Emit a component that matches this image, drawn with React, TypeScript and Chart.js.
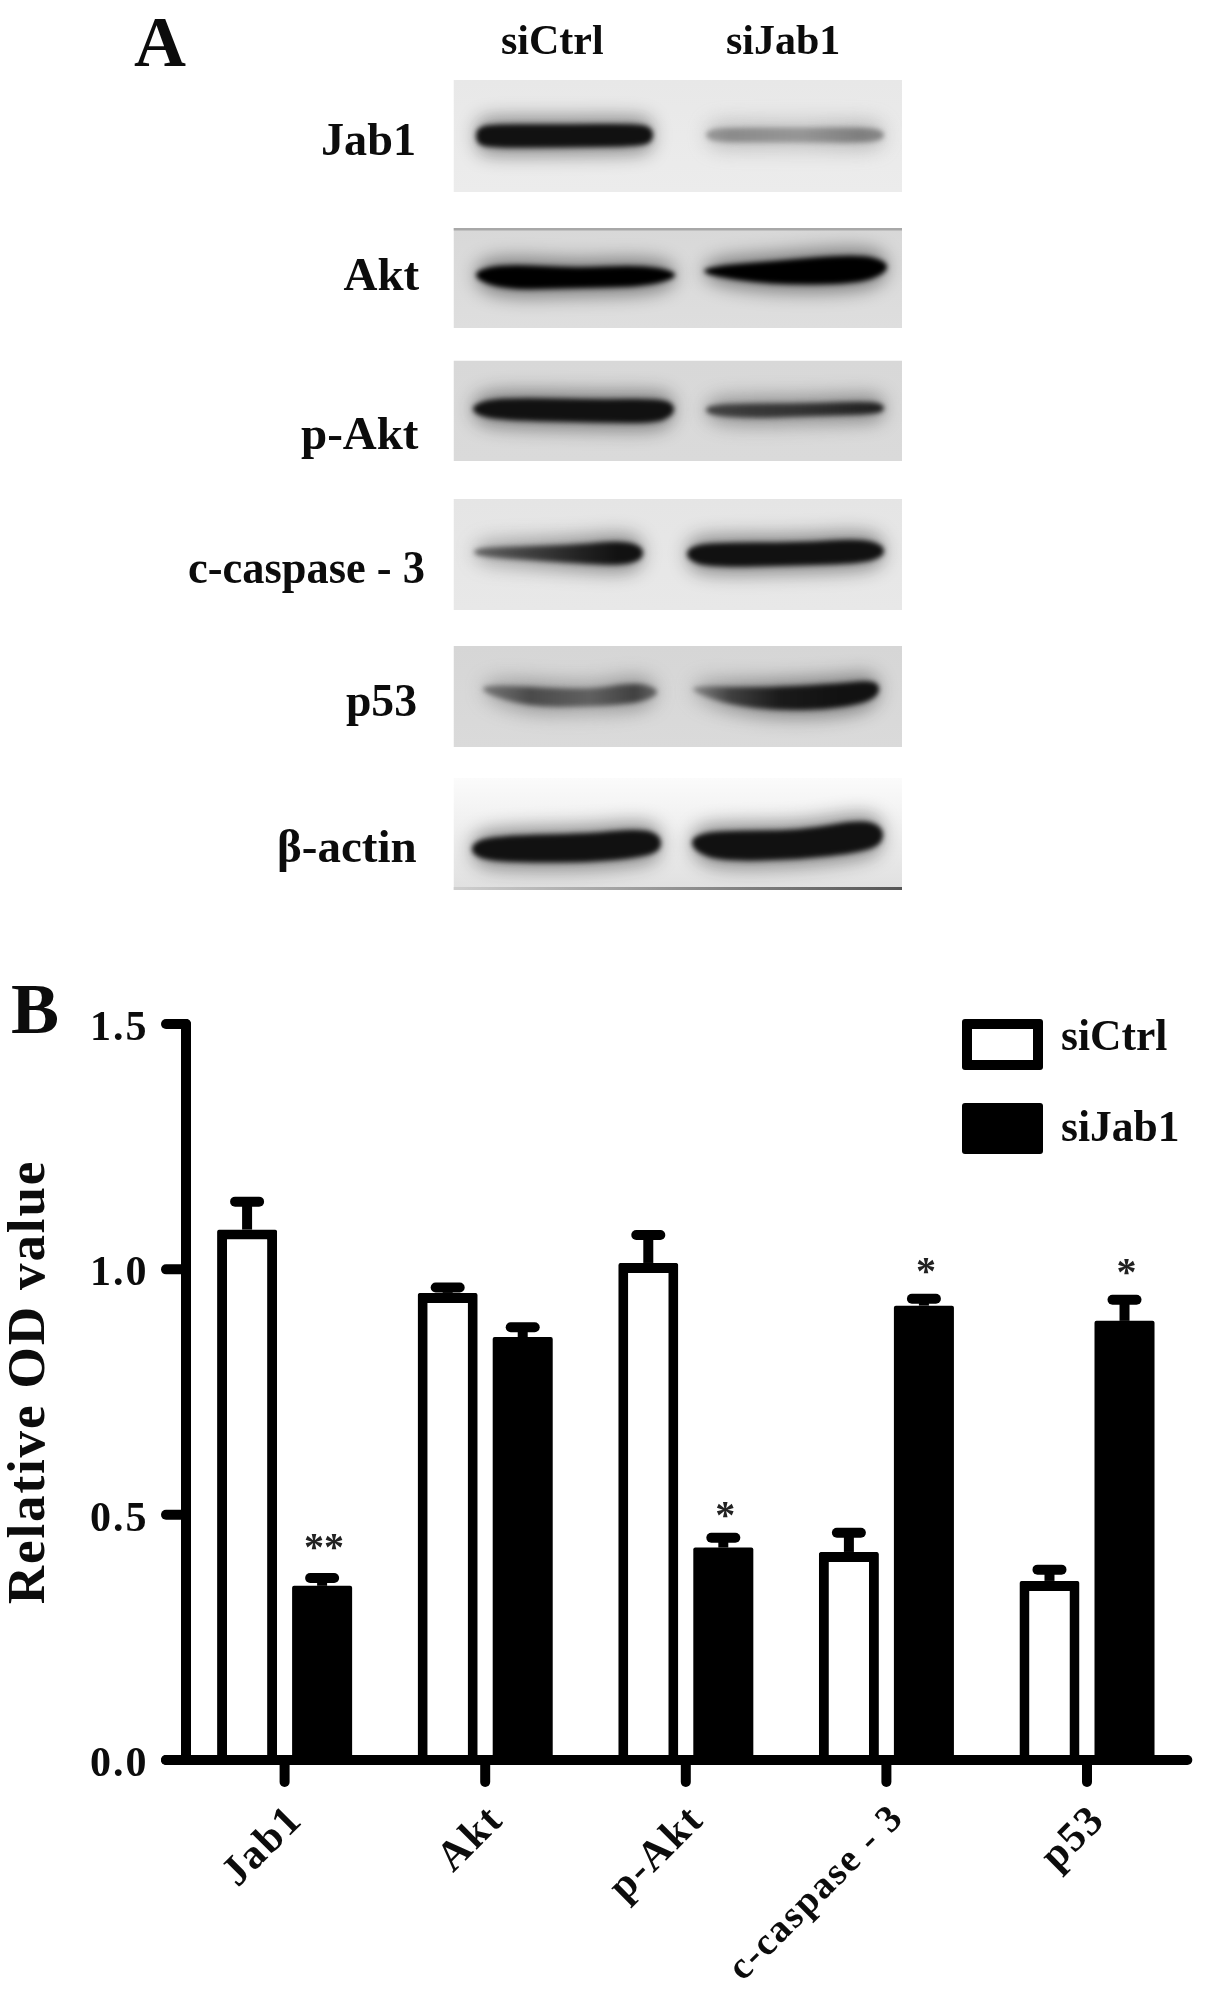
import { useEffect, useRef } from 'react';
import { Chart, registerables } from 'chart.js';

Chart.register(...registerables);

// ---- Panel B data ----
const categories = ['Jab1', 'Akt', 'p-Akt', 'c-caspase - 3', 'p53'];
const siCtrlValues = [1.081, 0.952, 1.013, 0.424, 0.365];
const siJab1Values = [0.355, 0.862, 0.433, 0.926, 0.895];
const siCtrlErrorTops = [1.138, 0.963, 1.07, 0.463, 0.388];
const siJab1ErrorTops = [0.371, 0.882, 0.453, 0.94, 0.938];
const siJab1Stars = ['**', '', '*', '*', '*'];
const siJab1StarLevels = [0.446, 0, 0.512, 1.008, 1.006];
const yTickValues = [0, 0.5, 1, 1.5];

// ---- Panel A text ----
const laneLabels = ['siCtrl', 'siJab1'];
const blotLabels = ['Jab1', 'Akt', 'p-Akt', 'c-caspase - 3', 'p53', 'β-actin'];

const SERIF = '"Liberation Serif", serif';
const INK = '#0c0c0c';

// ---- Panel A layout (decoration of the figure, not chart values) ----
type Pt = [number, number, number, string];
const PANEL_X = [453.5, 902];
const LANE_LABEL_POS: [number, number, number][] = [
  [501, 54, 106],
  [726, 54, 116],
];
const BLOT_LABEL_POS: [number, number, number][] = [
  [321, 155, 95],
  [343.5, 290, 76],
  [301, 449, 118],
  [188, 583, 237],
  [346, 716, 71],
  [277, 862, 140],
];
const PANELS: { y0: number; y1: number; top: string; bottom: string; bands: Pt[][] }[] = [
  {
    y0: 80, y1: 192, top: '#e8e8e8', bottom: '#ececec',
    bands: [
      [[476, 136, 8, '#111'], [492, 136, 12, '#111'], [560, 136, 11.5, '#111'], [638, 135, 11.5, '#111'], [653, 135, 7, '#111']],
      [[706, 135, 5, '#999'], [730, 135, 7.5, '#8a8a8a'], [800, 135, 7, '#969696'], [860, 135, 8, '#7e7e7e'], [884, 135, 5, '#888']],
    ],
  },
  {
    y0: 228, y1: 328, top: '#d8d8d8', bottom: '#dedede',
    bands: [
      [[476, 275, 5, '#000'], [507, 277, 13, '#000'], [573, 278, 10, '#000'], [640, 276, 11, '#000'], [675, 275, 4, '#000']],
      [[704, 271, 4, '#000'], [773, 273, 12, '#000'], [857, 269, 15, '#000'], [887, 267, 6, '#000']],
    ],
  },
  {
    y0: 360.5, y1: 461, top: '#d8d8d8', bottom: '#dadada',
    bands: [
      [[473, 409, 5, '#111'], [500, 409, 11.5, '#111'], [600, 411, 11.5, '#111'], [655, 411, 12.5, '#111'], [674, 409, 6, '#111']],
      [[706, 410, 5, '#444'], [750, 411, 7.5, '#383838'], [800, 410, 6.5, '#333'], [870, 408, 6.5, '#222'], [884, 408, 3.5, '#222']],
    ],
  },
  {
    y0: 499, y1: 610, top: '#e5e5e5', bottom: '#e8e8e8',
    bands: [
      [[474, 552, 4, '#666'], [520, 553, 6.5, '#444'], [580, 554, 9.5, '#222'], [620, 553, 12.5, '#111'], [643, 553, 7, '#111']],
      [[687, 554, 6, '#111'], [710, 555, 12.5, '#111'], [800, 554, 11.5, '#111'], [860, 551, 12.5, '#111'], [884, 551, 6, '#111']],
    ],
  },
  {
    y0: 646, y1: 747, top: '#d6d6d6', bottom: '#dadada',
    bands: [
      [[483, 689, 4, '#777'], [530, 697, 10, '#4a4a4a'], [590, 698, 8.5, '#606060'], [635, 693, 10.5, '#404040'], [657, 692, 4, '#666']],
      [[693, 689, 3, '#888'], [730, 696, 9, '#404040'], [780, 699, 12, '#1a1a1a'], [840, 696, 12.5, '#111'], [879, 689, 9.5, '#111']],
    ],
  },
  {
    y0: 778, y1: 890, top: '#fbfbfb', bottom: '#e0e0e0',
    bands: [
      [[472, 849, 7, '#111'], [500, 849, 13.5, '#111'], [590, 848, 14.5, '#111'], [640, 843, 14.5, '#111'], [661, 843, 8, '#111']],
      [[692, 843, 7, '#111'], [720, 846, 15.5, '#111'], [800, 845, 14.5, '#111'], [860, 836, 16.5, '#111'], [883, 835, 9, '#111']],
    ],
  },
];

function tracePolygon(ctx: CanvasRenderingContext2D, pts: Pt[], grow: number) {
  const top = pts.map((p) => [p[0], p[1] - p[2] - grow]);
  const bottom = pts.map((p) => [p[0], p[1] + p[2] + grow]).reverse();
  const all = [...top, ...bottom];
  ctx.beginPath();
  const n = all.length;
  const mid = (a: number[], b: number[]) => [(a[0] + b[0]) / 2, (a[1] + b[1]) / 2];
  const start = mid(all[n - 1], all[0]);
  ctx.moveTo(start[0], start[1]);
  for (let i = 0; i < n; i++) {
    const next = all[(i + 1) % n];
    const m = mid(all[i], next);
    ctx.quadraticCurveTo(all[i][0], all[i][1], m[0], m[1]);
  }
  ctx.closePath();
}

function drawBand(ctx: CanvasRenderingContext2D, pts: Pt[]) {
  const x0 = pts[0][0];
  const x1 = pts[pts.length - 1][0];
  const grad = ctx.createLinearGradient(x0, 0, x1, 0);
  pts.forEach((p) => grad.addColorStop((p[0] - x0) / (x1 - x0), p[3]));
  ctx.save();
  ctx.fillStyle = grad;
  ctx.filter = 'blur(9px)';
  ctx.globalAlpha = 0.42;
  tracePolygon(ctx, pts, 8);
  ctx.fill();
  ctx.filter = 'blur(2.6px)';
  ctx.globalAlpha = 1;
  tracePolygon(ctx, pts, 0);
  ctx.fill();
  ctx.restore();
}

const panelAPlugin = {
  id: 'panelA',
  beforeDraw(chart: any) {
    const ctx: any = chart.ctx;
    ctx.save();
    const w = PANEL_X[1] - PANEL_X[0];
    PANELS.forEach((p, i) => {
      ctx.save();
      ctx.beginPath();
      ctx.rect(PANEL_X[0], p.y0, w, p.y1 - p.y0);
      ctx.clip();
      const g = ctx.createLinearGradient(0, p.y0, 0, p.y1);
      g.addColorStop(0, p.top);
      g.addColorStop(1, p.bottom);
      ctx.fillStyle = g;
      ctx.fillRect(PANEL_X[0], p.y0, w, p.y1 - p.y0);
      p.bands.forEach((b) => drawBand(ctx, b));
      if (i === 1) {
        ctx.fillStyle = '#a8a8a8';
        ctx.fillRect(PANEL_X[0], p.y0, w, 2.5);
      }
      if (i === 5) {
        const e = ctx.createLinearGradient(PANEL_X[0], 0, PANEL_X[1], 0);
        e.addColorStop(0, '#cfcfcf');
        e.addColorStop(1, '#555');
        ctx.fillStyle = e;
        ctx.fillRect(PANEL_X[0], p.y1 - 3, w, 3);
      }
      ctx.restore();
    });
    ctx.fillStyle = INK;
    ctx.textBaseline = 'alphabetic';
    ctx.textAlign = 'left';
    ctx.font = `bold 72px ${SERIF}`;
    ctx.fillText('A', 134, 66);
    ctx.font = `bold 42px ${SERIF}`;
    laneLabels.forEach((t, i) => {
      const [x, y, mw] = LANE_LABEL_POS[i];
      ctx.fillText(t, x, y, mw);
    });
    ctx.font = `bold 47px ${SERIF}`;
    blotLabels.forEach((t, i) => {
      const [x, y, mw] = BLOT_LABEL_POS[i];
      ctx.fillText(t, x, y, mw);
    });
    ctx.font = `bold 72px ${SERIF}`;
    ctx.fillText('B', 11, 1033);
    ctx.restore();
    // the axis text of the reference is slightly stretched
    ctx.letterSpacing = '1.9px';
  },
  afterDraw(chart: any) {
    chart.ctx.letterSpacing = '0px';
  },
};

const AXIS_W = 10;
const figurePlugin = {
  id: 'figureMarks',
  beforeDatasetsDraw(chart: any) {
    const ctx: CanvasRenderingContext2D = chart.ctx;
    const y = chart.scales.y;
    ctx.save();
    ctx.strokeStyle = '#000';
    const tops = [siCtrlErrorTops, siJab1ErrorTops];
    const vals = [siCtrlValues, siJab1Values];
    tops.forEach((series, d) => {
      const meta = chart.getDatasetMeta(d);
      series.forEach((top, i) => {
        const x = meta.data[i].x;
        const py = y.getPixelForValue(top);
        ctx.lineWidth = AXIS_W;
        ctx.lineCap = 'butt';
        ctx.beginPath();
        ctx.moveTo(x, y.getPixelForValue(vals[d][i]));
        ctx.lineTo(x, py);
        ctx.stroke();
        ctx.lineCap = 'round';
        ctx.beginPath();
        ctx.moveTo(x - 12, py);
        ctx.lineTo(x + 12, py);
        ctx.stroke();
      });
    });
    ctx.restore();
  },
  afterDatasetsDraw(chart: any) {
    const ctx: any = chart.ctx;
    const { x, y } = chart.scales;
    const y0 = y.getPixelForValue(0);
    const yTop = y.getPixelForValue(1.5);
    const left = x.left + 1.7;
    ctx.save();
    ctx.letterSpacing = '0px';
    ctx.strokeStyle = '#000';
    ctx.lineWidth = AXIS_W;
    ctx.lineCap = 'round';
    const seg = (a: number, b: number, c: number, d: number) => {
      ctx.beginPath();
      ctx.moveTo(a, b);
      ctx.lineTo(c, d);
      ctx.stroke();
    };
    seg(left, yTop, left, y0);
    seg(left - 20, y0, x.right, y0);
    yTickValues.forEach((v) => {
      const py = y.getPixelForValue(v);
      seg(left - 20, py, left, py);
    });
    categories.forEach((_, i) => {
      const px = x.getPixelForTick(i);
      seg(px, y0, px, y0 + 22);
    });
    // significance stars
    ctx.fillStyle = '#222';
    ctx.font = `bold 40px ${SERIF}`;
    ctx.textAlign = 'center';
    ctx.textBaseline = 'alphabetic';
    const meta = chart.getDatasetMeta(1);
    siJab1Stars.forEach((s, i) => {
      if (s) ctx.fillText(s, meta.data[i].x + 2, y.getPixelForValue(siJab1StarLevels[i]) + 19);
    });
    // legend
    const boxes = [1019, 1103];
    chart.data.datasets.forEach((ds: any, i: number) => {
      const by = boxes[i];
      ctx.fillStyle = ds.borderColor;
      ctx.beginPath();
      ctx.roundRect(962, by, 81, 51, 3);
      ctx.fill();
      ctx.fillStyle = ds.backgroundColor;
      ctx.fillRect(972, by + 10, 61, 31);
      ctx.fillStyle = INK;
      ctx.font = `bold 43.5px ${SERIF}`;
      ctx.textAlign = 'left';
      ctx.fillText(ds.label, 1061, by + 31 + (i === 0 ? 0 : 7));
    });
    ctx.restore();
  },
};

export default function App() {
  const ref = useRef<HTMLCanvasElement>(null);
  useEffect(() => {
    const chart = new Chart(ref.current as HTMLCanvasElement, {
      type: 'bar',
      data: {
        labels: categories,
        datasets: [
          { label: 'siCtrl', data: siCtrlValues, backgroundColor: '#ffffff', borderColor: '#000000', borderWidth: 10, borderSkipped: 'bottom', borderRadius: 2 },
          { label: 'siJab1', data: siJab1Values, backgroundColor: '#000000', borderColor: '#000000', borderWidth: 0, borderRadius: 2 },
        ],
      },
      options: {
        responsive: false,
        animation: false,
        layout: { padding: { top: 1004, right: 17.7, left: 0, bottom: 0 } },
        datasets: { bar: { categoryPercentage: 0.748, barPercentage: 0.8 } },
        plugins: { legend: { display: false }, tooltip: { enabled: false } },
        scales: {
          x: {
            type: 'category',
            grid: { display: false, drawTicks: false },
            border: { display: false },
            afterFit(s: any) { s.height = 230; },
            ticks: {
              autoSkip: false,
              minRotation: 45,
              maxRotation: 45,
              padding: 36,
              labelOffset: 12,
              color: INK,
              font: (c: any) => ({ family: SERIF, weight: 'bold', size: c.index === 3 ? 38.5 : 42 }),
            },
          },
          y: {
            type: 'linear',
            min: 0,
            max: 1.5408,
            grid: { display: false, drawTicks: false },
            border: { display: false },
            afterFit(s: any) { s.width = 184.3; },
            title: {
              display: true,
              text: 'Relative OD value',
              color: INK,
              padding: 0,
              font: { family: SERIF, weight: 'bold', size: 53, lineHeight: 1.15 },
            },
            ticks: {
              stepSize: 0.5,
              includeBounds: false,
              padding: 36,
              labelOffset: 5,
              color: INK,
              font: { family: SERIF, weight: 'bold', size: 42 },
              callback: (v: any) => Number(v).toFixed(1),
            },
          },
        },
      } as any,
      plugins: [panelAPlugin, figurePlugin],
    });
    return () => chart.destroy();
  }, []);
  return (
    <>
      <style>{'body{margin:0;background:#fff}'}</style>
      <canvas ref={ref} width={1205} height={1990} style={{ display: 'block', filter: 'blur(0.5px)' }} />
    </>
  );
}
